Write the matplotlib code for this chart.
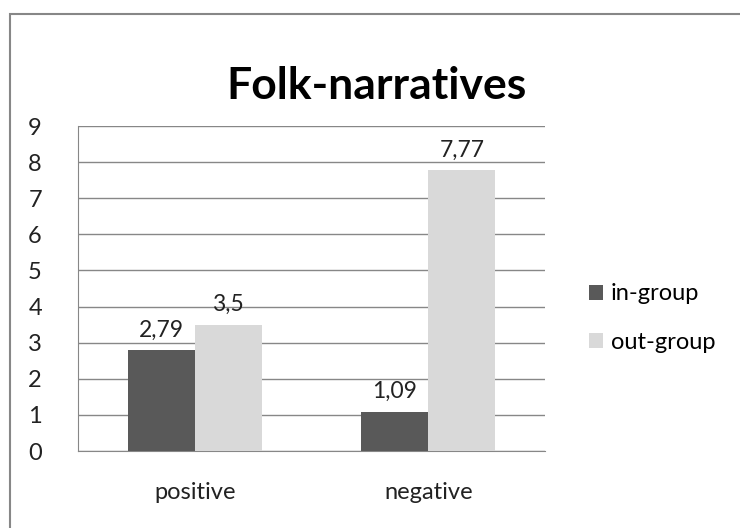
import matplotlib
matplotlib.use("Agg")
import matplotlib.pyplot as plt
from matplotlib.patches import Rectangle
import numpy as np

plt.rcParams['font.family'] = ['Lato', 'DejaVu Sans']

categories = ['positive', 'negative']
in_group = [2.79, 1.09]
out_group = [3.5, 7.77]
series_names = ['in-group', 'out-group']
yticks = list(range(0, 10))

fig = plt.figure(figsize=(7.4, 5.28), dpi=100)
W, H = 740, 528

# outer chart border (runs off right and bottom edges)
fig.patches.append(Rectangle((10 / W, -0.1), 1.0, (H - 14) / H + 0.1, transform=fig.transFigure,
                             fill=False, edgecolor='#878787', linewidth=1.5))

ax = fig.add_axes([78 / W, (H - 451) / H, 467 / W, (451 - 126) / H])

x = np.arange(len(categories))
bw = 0.287
b1 = ax.bar(x - bw / 2, in_group, bw, color='#595959', label=series_names[0], zorder=3)
b2 = ax.bar(x + bw / 2, out_group, bw, color='#D9D9D9', label=series_names[1], zorder=3)

for bars in (b1, b2):
    for r in bars:
        v = r.get_height()
        ax.annotate(f"{v:g}".replace('.', ','), (r.get_x() + r.get_width() / 2, v),
                    xytext=(0, 7), textcoords='offset points', ha='center', va='bottom',
                    fontsize=16.5, color='#222222')

ax.set_xlim(-0.5, 1.5)
ax.set_ylim(0, 9)
ax.set_yticks(yticks)
ax.set_xticks(x)
ax.set_xticklabels(categories)
ax.yaxis.grid(True, color='#878787', linewidth=1, zorder=0)
ax.tick_params(axis='y', length=0, pad=26, labelsize=17, labelcolor='#222222')
ax.tick_params(axis='x', length=0, pad=22, labelsize=17, labelcolor='#222222')
for s in ['top', 'right']:
    ax.spines[s].set_visible(False)
ax.spines['left'].set_color('#878787')
ax.spines['bottom'].set_color('#878787')

fig.text(377 / W, 1 - 86 / H, 'Folk-narratives', ha='center', va='center',
         fontsize=32, fontweight='bold', color='#000000')

fig.legend(handles=[b1, b2], labels=series_names, loc='center left',
           bbox_to_anchor=(568 / W, 1 - 318 / H), frameon=False, fontsize=17,
           handlelength=0.6, handleheight=0.6, handletextpad=0.3, labelspacing=1.15)

fig.savefig('out.png', dpi=100)
